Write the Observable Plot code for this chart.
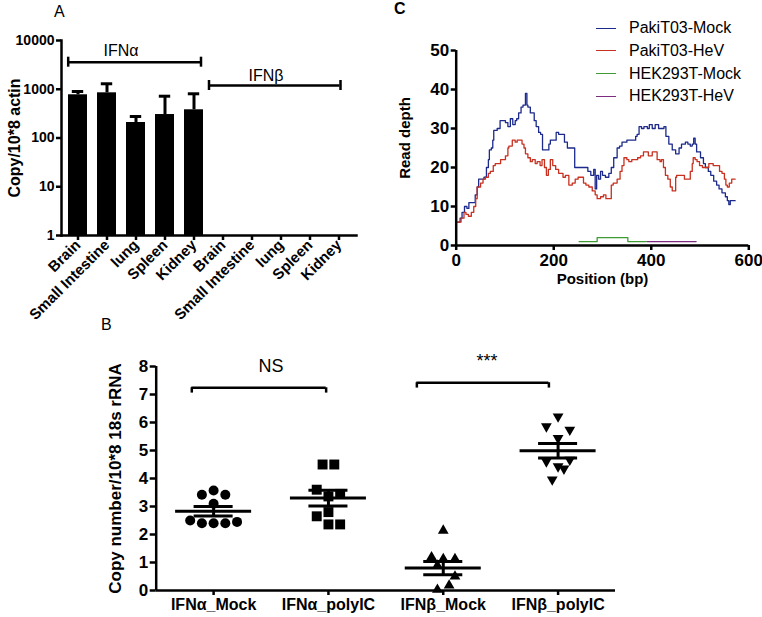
<!DOCTYPE html>
<html>
<head>
<meta charset="utf-8">
<script src="https://cdn.jsdelivr.net/npm/d3@7"></script>
<script src="https://cdn.jsdelivr.net/npm/@observablehq/plot@0.6"></script>
<style>
  body { margin: 0; background: #fff; }
  #root { position: relative; width: 762px; height: 617px; overflow: hidden; background: #fff;
          font-family: Arial, "Liberation Sans", Helvetica, sans-serif; color: #000; }
  .panel { position: absolute; }
  .letter { position: absolute; font-size: 16px; line-height: 1; }
  .legend-row { position: absolute; left: 596px; height: 20px; display: flex; align-items: center; font-size: 16px; }
  .legend-row .sw { width: 20px; height: 0; border-top: 1.4px solid; margin-right: 13px; }
</style>
</head>
<body>
<div id="root"></div>
<script>
const FONT = 'Arial, "Liberation Sans", Helvetica, sans-serif';

// ---------------- Panel A data ----------------
const tissuesA = ["Brain", "Small Intestine", "lung", "Spleen", "Kidney"];
const genesA = ["IFNα", "IFNβ"];
const ifnaCopy = [770, 845, 208, 303, 379];
const ifnaCopyErr = [900, 1295, 276, 720, 807];
const ifnbCopy = [null, null, null, null, null];
const ifnbCopyErr = [null, null, null, null, null];
const yTicksA = [1, 10, 100, 1000, 10000];
const bracketYA = [3590, 1194];
const bracketCapLoA = [2835, 943];
const bracketCapHiA = [4545, 1512];
const bracketLabelYA = [6240, 1905];

// ---------------- Panel B data ----------------
const groupsB = ["IFNα_Mock", "IFNα_polyIC", "IFNβ_Mock", "IFNβ_polyIC"];
const alphaMockVals   = [3.42, 3.57, 3.42, 3.10, 2.50, 2.40, 2.40, 2.40, 2.45];
const alphaMockSlot   = [-1, 0, 1, 0, -2, -1, 0, 1, 2];
const alphaPolyVals   = [4.50, 4.50, 3.60, 3.45, 3.36, 2.65, 2.80, 2.36, 2.36];
const alphaPolySlot   = [-0.5, 0.5, -1, 1, 0, -1, 0, 0, 1];
const betaMockVals    = [2.14, 1.19, 1.13, 1.13, 0.89, 0.50, 0.18, 0.03];
const betaMockSlot    = [0, -1, 0, 1, -0.5, 1, 0.5, -0.5];
const betaPolyVals    = [6.21, 5.86, 5.74, 5.44, 4.61, 4.67, 4.43, 4.35, 3.96];
const betaPolySlot    = [0, -1, 1, 0, -1, 1, 0, 0.5, -0.5];
const meansB = [2.83, 3.30, 0.80, 4.99];
const semB   = [0.17, 0.28, 0.24, 0.26];
const yTicksB = [0, 1, 2, 3, 4, 5, 6, 7, 8];
const sigLabelsB = ["NS", "***"];
const sigFromB = [-0.19, 1.77];
const sigToB   = [0.98, 2.92];
const sigYB    = [7.24, 7.42];
const sigTextXB = [0.50, 2.38];
const sigTextYB = [8.01, 8.20];

// ---------------- Panel C data ----------------
const seriesC = ["PakiT03-Mock", "PakiT03-HeV", "HEK293T-Mock", "HEK293T-HeV"];
const colorsC = ["#1c2a8c", "#c8301f", "#3f9a34", "#7c2d80"];
const pakiMock = [[3,6],[8,7],[12,8.5],[17,10],[22,9.5],[26,11],[39,13],[43,15],[46,17],[57,17.5],[62,20],[66,22],[68,24.5],[72,25],[75,27],[77,29.5],[84,30],[90,32],[101,31.5],[106,30.5],[111,32.5],[116,31],[121,32],[124,32.5],[128,34],[133,35.5],[137,36],[142,39],[145,36],[147,35.5],[152,34],[156,34],[160,32],[164,30.5],[169,29],[173,28.5],[177,24.5],[186,24.5],[190,26],[193,27],[200,27],[205,29],[210,28.5],[217,28.5],[222,26.5],[228,25],[238,25],[243,20],[265,20],[270,19],[276,18],[282,19.5],[285,14.5],[288,18],[292,17],[296,19],[300,18],[306,17.5],[313,18.5],[318,20],[323,22.5],[330,25],[335,25.5],[340,26.5],[350,27],[364,27],[368,28],[371,28.5],[375,30.5],[380,30],[385,30.5],[392,30],[396,31],[402,30],[408,31],[415,30],[422,30],[426,30.5],[430,28],[436,26],[443,24.5],[450,23.5],[457,25],[462,26],[470,26.5],[475,26],[480,25.5],[484,26],[487,27.5],[490,26],[493,24],[501,22.5],[507,21],[511,20],[517,19],[522,18],[528,16.5],[534,15.5],[539,14.5],[545,13.5],[552,12.5],[556,11.5],[559,10.5],[562,11.5],[568,11.5],[572,11.5]];
const pakiHeV = [[3,6],[10,7],[16,8.5],[20,8],[25,7.5],[31,8.5],[36,10],[40,12],[43,15],[50,16],[55,17],[60,17.5],[66,18.5],[70,19],[76,20.5],[80,21],[87,21],[91,22],[97,22],[101,23],[106,25],[108,25.5],[115,27],[121,26.5],[125,27],[132,27],[135,26],[139,25],[142,23.5],[147,22.5],[152,21.5],[156,22],[162,21],[166,21.5],[172,20.5],[176,22],[181,20],[185,18],[189,19.5],[193,22],[198,20.5],[204,19.5],[210,18.5],[214,18.5],[219,17.5],[224,18],[231,15.5],[238,16],[244,17],[250,17.5],[255,17.5],[261,16],[266,15.5],[272,15],[279,14],[285,13],[289,12],[296,12.5],[302,13],[307,12],[313,12],[318,15.5],[322,16],[330,17],[336,19],[340,20.5],[344,22.5],[350,22],[354,21.5],[360,22],[367,22],[372,22.5],[378,23],[384,24],[388,24],[394,23],[398,23],[402,24],[408,24],[412,22],[418,21.5],[421,22],[425,20],[429,18],[434,17],[439,15],[443,14],[450,17.5],[452,18],[463,18],[468,17],[474,17],[480,19],[484,21],[486,22.5],[490,22],[494,21.5],[499,20.5],[505,20],[514,20],[518,21],[522,21],[527,20.5],[535,20.5],[540,19],[545,18.5],[550,17],[553,15.5],[556,15],[560,16],[565,17],[572,17]];
const hekMock = [[252,1],[289,2],[352,1],[390,1]];
const hekHeV = [[392,1],[492,1]];
const xTicksC = [0, 200, 400, 600];
const yTicksC = [0, 10, 20, 30, 40, 50];

// ---------------- build ----------------
const root = document.getElementById("root");
function place(node, left, top) {
  const d = document.createElement("div");
  d.className = "panel";
  d.style.left = left + "px";
  d.style.top = top + "px";
  d.appendChild(node);
  root.appendChild(d);
}
function letter(txt, left, top, bold) {
  const d = document.createElement("div");
  d.className = "letter";
  d.textContent = txt;
  d.style.left = left + "px";
  d.style.top = top + "px";
  if (bold) d.style.fontWeight = "bold";
  root.appendChild(d);
}

// ---- Panel A ----
const rowsA = genesA.flatMap((g, gi) => tissuesA.map((t, ti) => ({
  key: g + "|" + t,
  value: gi === 0 ? ifnaCopy[ti] : ifnbCopy[ti],
  err: gi === 0 ? ifnaCopyErr[ti] : ifnbCopyErr[ti]
})));
const barsA = rowsA.filter(d => d.value != null);
const bracketsA = genesA.map((g, i) => ({
  label: g,
  first: g + "|" + tissuesA[0],
  last: g + "|" + tissuesA[tissuesA.length - 1],
  mid: g + "|" + tissuesA[2],
  y: bracketYA[i], lo: bracketCapLoA[i], hi: bracketCapHiA[i], ly: bracketLabelYA[i]
}));
const bwA = 19.6;
const plotA = Plot.plot({
  width: 370, height: 330,
  marginLeft: 61, marginRight: 14, marginTop: 40, marginBottom: 95,
  style: {fontFamily: FONT, color: "#000", background: "transparent", overflow: "visible"},
  x: {type: "band", domain: rowsA.map(d => d.key), paddingInner: 0.33, paddingOuter: 0.2, align: 0.5},
  y: {type: "log", domain: [1, 10000]},
  marks: [
    Plot.barY(barsA, {x: "key", y1: 1, y2: "value", fill: "#000"}),
    Plot.ruleX(barsA, {x: "key", y1: "value", y2: "err", strokeWidth: 3}),
    Plot.tickY(barsA, {x: "key", y: "err", strokeWidth: 3, insetLeft: 3.8, insetRight: 3.8}),
    Plot.frame({anchor: "left", strokeWidth: 2.5}),
    Plot.frame({anchor: "bottom", strokeWidth: 2.5}),
    Plot.axisY({ticks: yTicksA, tickFormat: d => String(d), tickSize: 5, tickPadding: 2, strokeWidth: 2.5,
                fontWeight: "bold", fontSize: 14, label: null}),
    Plot.axisX({tickFormat: d => d.split("|")[1], tickRotate: -45, tickSize: 5, tickPadding: 2, strokeWidth: 2.5,
                fontWeight: "bold", fontSize: 15, label: null}),
    Plot.text(["Copy/10*8 actin"], {frameAnchor: "left", textAnchor: "middle", dx: -47, rotate: -90, fontWeight: "bold", fontSize: 16}),
    // group brackets
    Plot.ruleY([bracketsA[0]], {x1: "first", x2: "last", y: "y", strokeWidth: 2.5, insetRight: 2.5}),
    Plot.ruleY([bracketsA[1]], {x1: "first", x2: "last", y: "y", strokeWidth: 2.5, dx: -4, insetRight: 4.5}),
    Plot.ruleX([bracketsA[0]], {x: "first", y1: "lo", y2: "hi", strokeWidth: 2.5, dx: -bwA / 2}),
    Plot.ruleX([bracketsA[0]], {x: "last", y1: "lo", y2: "hi", strokeWidth: 2.5, dx: 7}),
    Plot.ruleX([bracketsA[1]], {x: "first", y1: "lo", y2: "hi", strokeWidth: 2.5, dx: -14}),
    Plot.ruleX([bracketsA[1]], {x: "last", y1: "lo", y2: "hi", strokeWidth: 2.5, dx: 1.5}),
    Plot.text(bracketsA, {x: "mid", y: "ly", text: "label", dx: -15, fontSize: 16})
  ]
});
place(plotA, 0, 0);

// ---- Panel C ----
const rowsC = [pakiMock, pakiHeV, hekMock, hekHeV].flatMap((arr, si) =>
  arr.map(([pos, depth]) => ({series: seriesC[si], pos, depth})));
const plotC = Plot.plot({
  width: 382, height: 300,
  marginLeft: 75.7, marginRight: 13.7, marginTop: 50, marginBottom: 55,
  style: {fontFamily: FONT, color: "#000", background: "transparent", overflow: "visible"},
  x: {domain: [0, 600]},
  y: {domain: [0, 50]},
  color: {domain: seriesC, range: colorsC},
  marks: [
    Plot.line(rowsC, {x: "pos", y: "depth", z: "series", stroke: "series", curve: "step-after", strokeWidth: 1.3}),
    Plot.ruleY([0], {strokeWidth: 2.5}),
    Plot.ruleX([0], {strokeWidth: 2.5}),
    Plot.axisY({ticks: yTicksC, tickSize: 5, tickPadding: 2, strokeWidth: 2.5, fontWeight: "bold", fontSize: 17, label: null}),
    Plot.axisX({ticks: xTicksC, tickSize: 5, tickPadding: 3, strokeWidth: 2.5, fontWeight: "bold", fontSize: 17, label: null}),
    Plot.text(["Read depth"], {frameAnchor: "left", textAnchor: "middle", dx: -50.7, dy: -10, rotate: -90, fontWeight: "bold", fontSize: 15}),
    Plot.text(["Position (bp)"], {frameAnchor: "bottom", dy: 38, fontWeight: "bold", fontSize: 15})
  ]
});
place(plotC, 380, 0);

// legend for C
seriesC.forEach((s, i) => {
  const row = document.createElement("div");
  row.className = "legend-row";
  row.style.top = (28.3 + i * 22.6 - 10) + "px";
  const sw = document.createElement("span");
  sw.className = "sw";
  sw.style.borderTopColor = colorsC[i];
  const tx = document.createElement("span");
  tx.textContent = s;
  row.appendChild(sw);
  row.appendChild(tx);
  root.appendChild(row);
});

// ---- Panel B ----
const groupVals = [alphaMockVals, alphaPolyVals, betaMockVals, betaPolyVals];
const groupSlots = [alphaMockSlot, alphaPolySlot, betaMockSlot, betaPolySlot];
const slotW = 0.102;
const pointsB = groupVals.flatMap((vals, gi) => vals.map((v, k) => ({g: gi, x: gi + groupSlots[gi][k] * slotW, y: v})));
const summaryB = groupsB.map((g, i) => ({i, mean: meansB[i], lo: meansB[i] - semB[i], hi: meansB[i] + semB[i]}));
const sigB = sigLabelsB.map((l, i) => ({label: l, from: sigFromB[i], to: sigToB[i], y: sigYB[i], cap: sigYB[i] - 0.19, tx: sigTextXB[i], ty: sigTextYB[i]}));
const meanHalf = 0.331, semHalf = 0.17;
const plotB = Plot.plot({
  width: 762, height: 287,
  marginLeft: 155.7, marginRight: 147, marginTop: 36, marginBottom: 27,
  style: {fontFamily: FONT, color: "#000", background: "transparent", overflow: "visible"},
  x: {domain: [-0.5, 3.5]},
  y: {domain: [0, 8]},
  marks: [
    Plot.ruleY(summaryB, {x1: d => d.i - meanHalf, x2: d => d.i + meanHalf, y: "mean", strokeWidth: 3}),
    Plot.ruleY(summaryB, {x1: d => d.i - semHalf, x2: d => d.i + semHalf, y: "hi", strokeWidth: 3}),
    Plot.ruleY(summaryB, {x1: d => d.i - semHalf, x2: d => d.i + semHalf, y: "lo", strokeWidth: 3}),
    Plot.ruleX(summaryB, {x: "i", y1: "lo", y2: "hi", strokeWidth: 3}),
    Plot.dot(pointsB.filter(d => d.g === 0), {x: "x", y: "y", symbol: "circle", r: 5, fill: "#000"}),
    Plot.dot(pointsB.filter(d => d.g === 1), {x: "x", y: "y", symbol: "square", r: 5.6, fill: "#000"}),
    Plot.dot(pointsB.filter(d => d.g === 2), {x: "x", y: "y", symbol: "triangle", r: 4, fill: "#000"}),
    Plot.dot(pointsB.filter(d => d.g === 3), {x: "x", y: "y", symbol: "triangle", r: 4, fill: "#000", rotate: 180}),
    Plot.ruleY([0], {strokeWidth: 2.5}),
    Plot.ruleX([-0.5], {strokeWidth: 2.5}),
    Plot.axisY({ticks: yTicksB, tickSize: 6, tickPadding: 2, strokeWidth: 2.5, fontWeight: "bold", fontSize: 17, label: null}),
    Plot.axisX({ticks: [0, 1, 2, 3], tickFormat: i => groupsB[i], tickSize: 5, tickPadding: 3, strokeWidth: 2.5,
                fontWeight: "bold", fontSize: 16, label: null}),
    Plot.text(["Copy number/10*8 18s rRNA"], {frameAnchor: "left", textAnchor: "middle", dx: -40.7, rotate: -90, fontWeight: "bold", fontSize: 17}),
    // significance brackets
    Plot.ruleY(sigB, {x1: "from", x2: "to", y: "y", strokeWidth: 2.5}),
    Plot.ruleX(sigB, {x: "from", y1: "cap", y2: "y", strokeWidth: 2.5}),
    Plot.ruleX(sigB, {x: "to", y1: "cap", y2: "y", strokeWidth: 2.5}),
    Plot.text(sigB, {x: "tx", y: "ty", text: "label", fontSize: 18})
  ]
});
place(plotB, 0, 330);

// panel letters
letter("A", 54, 4, false);
letter("C", 394, 1, true);
letter("B", 101, 317, false);
</script>
</body>
</html>
